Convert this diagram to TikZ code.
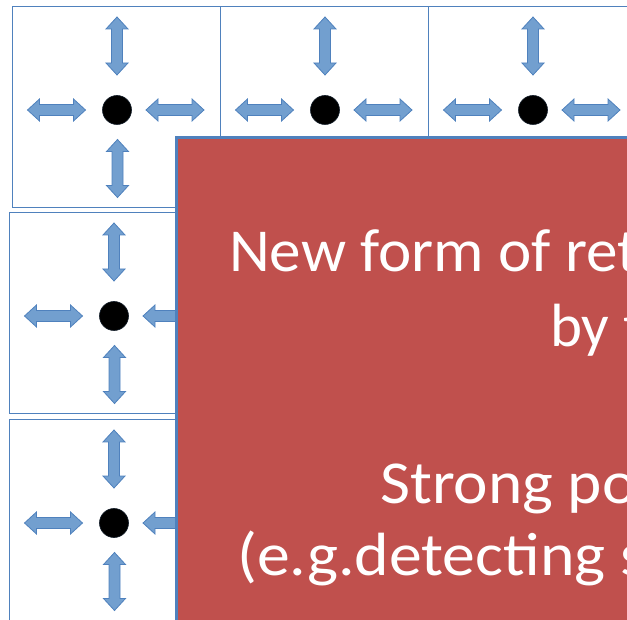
\documentclass[tikz,border=0pt]{standalone}
\usepackage{fontspec}
\setmainfont{Carlito}
\definecolor{cellblue}{RGB}{79,129,189}
\definecolor{arrowfill}{RGB}{114,159,207}
\definecolor{boxred}{RGB}{192,80,77}
\newcommand{\wide}[2]{\scalebox{#1}[1]{#2}}
\begin{document}
\begin{tikzpicture}[x=1pt,y=-1pt,
  cellframe/.style={draw=cellblue,line width=1pt},
  arrowshape/.style={fill=arrowfill,draw=cellblue,line width=0.8pt,line join=miter},
  dotstyle/.style={circle,fill=black,draw=black!80!cellblue,line width=0.6pt,minimum size=29pt,inner sep=0pt},
  redbox/.style={fill=boxred,draw=cellblue,line width=3pt},
  bigtext/.style={text=white,font=\fontsize{61}{76}\selectfont,inner sep=0pt,anchor=base west},
  darrow/.pic={\path[arrowshape] (-29,0) -- (-17,-11) -- (-17,-5.5) -- (17,-5.5) -- (17,-11)
      -- (29,0) -- (17,11) -- (17,5.5) -- (-17,5.5) -- (-17,11) -- cycle;}
]
\useasboundingbox (0,0) rectangle (627,620);
\clip (0,0) rectangle (627,620);
% cells: frame, arrows and dot
\foreach \cx/\cy/\nm in {117/110/a,325/110/b,533/110/c,114/316/d,114/523/e}{
  \draw[cellframe] (\cx-105,\cy-103) rectangle (\cx+103,\cy+98);
  \pic[rotate=90] at (\cx,\cy-64) {darrow};
  \pic[rotate=90] at (\cx+0.5,\cy+58.5) {darrow};
  \pic at (\cx-60.5,\cy) {darrow};
  \pic at (\cx+58,\cy) {darrow};
  \node[dotstyle] (dot\nm) at (\cx,\cy) {};
}
% red box
\path[redbox] (176.5,137.5) rectangle (700,700);
\node[bigtext] (t1) at (229,272) {\wide{1.035}{New form of ret}};
\node[bigtext] (t2) at (550,347) {\wide{1.0}{by t}};
\node[bigtext] (t3) at (380,503) {\wide{1.07}{Strong po}};
\node[bigtext] (t4) at (237,575) {\wide{1.078}{(e.g.detecting s}};
\end{tikzpicture}
\end{document}
